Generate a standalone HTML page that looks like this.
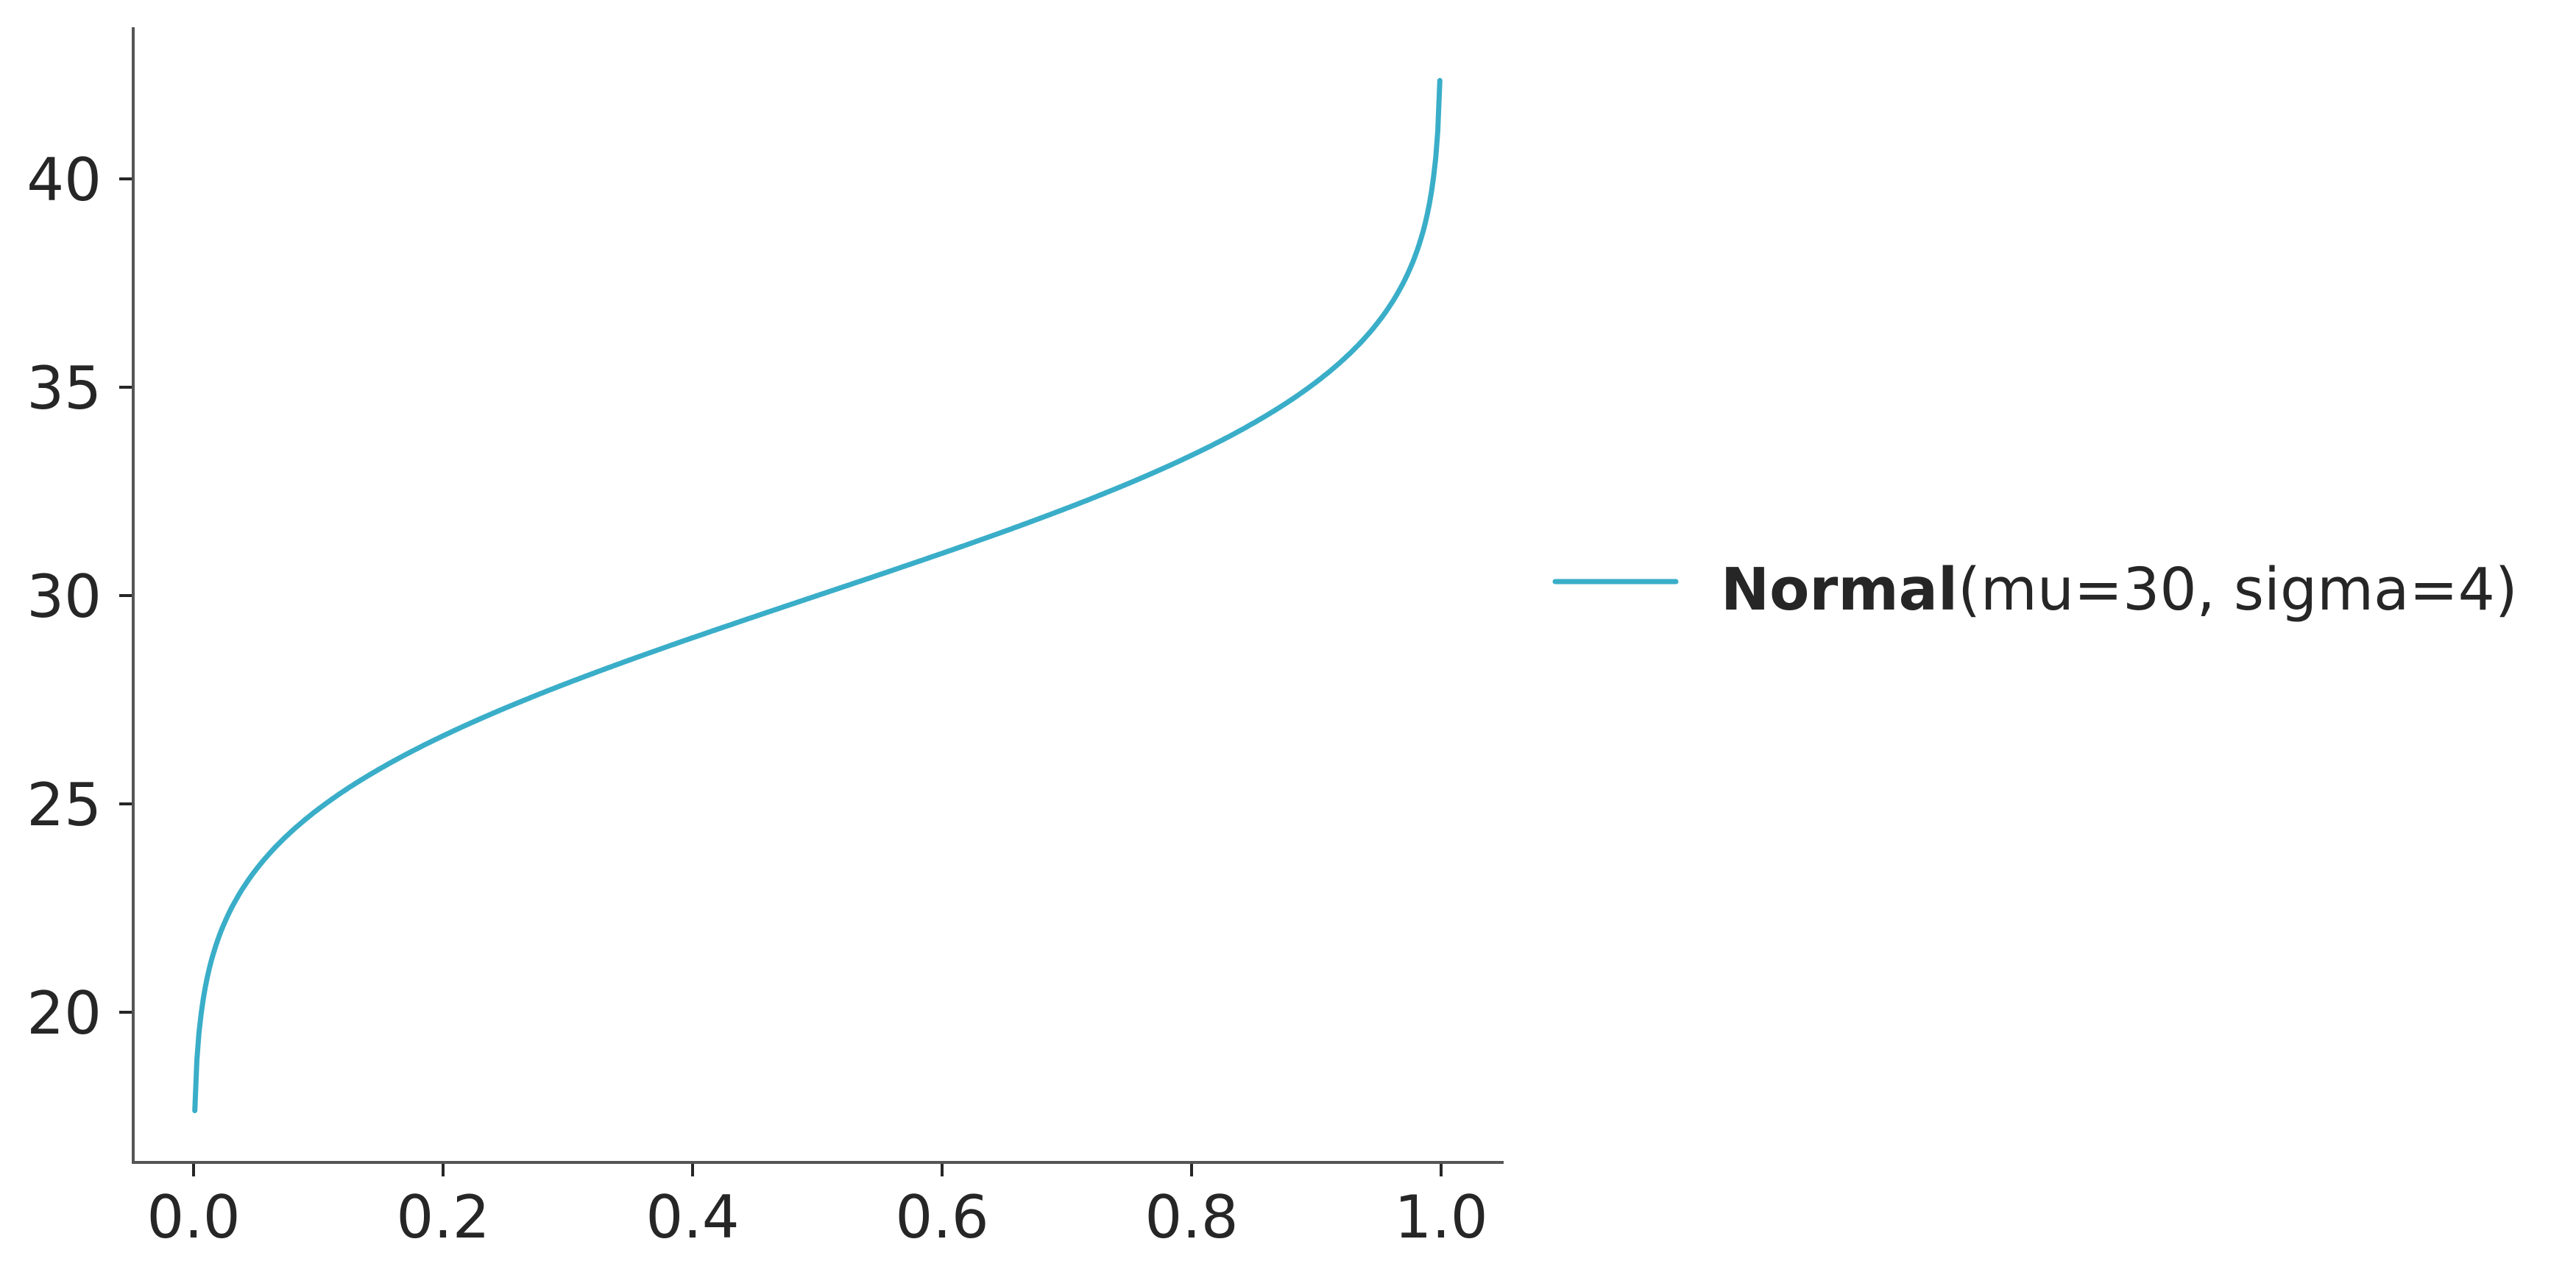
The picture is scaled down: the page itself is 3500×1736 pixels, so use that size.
<!DOCTYPE html>
<html><head><meta charset="utf-8"><style>
html,body{margin:0;padding:0;background:#fff;width:3500px;height:1736px;overflow:hidden}
text{font-family:"DejaVu Sans","Liberation Sans",sans-serif;fill:#262626}
</style></head><body>
<svg id="chart" width="3500" height="1736" xmlns="http://www.w3.org/2000/svg">
<g id="axes"></g>
<g id="plot"></g>
<g id="legend">
<line x1="2113" y1="790" x2="2277" y2="790" stroke="#3aaec8" stroke-width="7" stroke-linecap="round"/>
<text x="2338" y="828" font-size="79"><tspan font-weight="bold">Normal</tspan>(mu=30, sigma=4)</text>
</g>
</svg>
<script>
const xTicks=[0,0.2,0.4,0.6,0.8,1.0];
const xTickLabels=["0.0","0.2","0.4","0.6","0.8","1.0"];
const yTicks=[20,25,30,35,40];
const yTickLabels=["20","25","30","35","40"];
const muParam=[30];
const sigmaParam=[4];
const pStart=[0.001];
const pEnd=[0.999];
const NS="http://www.w3.org/2000/svg";
function sx(v){return 263+(1958-263)*v;}
function sy(v){return 1375-(v-20)*(1375-243)/20;}
function el(t,a,p){const e=document.createElementNS(NS,t);for(const k in a)e.setAttribute(k,a[k]);p.appendChild(e);return e;}
function ppf(p){
 const a=[-39.69683028665376,220.9460984245205,-275.9285104469687,138.3577518672690,-30.66479806614716,2.506628277459239];
 const b=[-54.47609879822406,161.5858368580409,-155.6989798598866,66.80131188771972,-13.28068155288572];
 const c=[-0.007784894002430293,-0.3223964580411365,-2.400758277161838,-2.549732539343734,4.374664141464968,2.938163982698783];
 const d=[0.007784695709041462,0.3224671290700398,2.445134137142996,3.754408661907416];
 const pl=0.02425;let q,r;
 if(p<pl){q=Math.sqrt(-2*Math.log(p));return (((((c[0]*q+c[1])*q+c[2])*q+c[3])*q+c[4])*q+c[5])/((((d[0]*q+d[1])*q+d[2])*q+d[3])*q+1);}
 if(p>1-pl){q=Math.sqrt(-2*Math.log(1-p));return -(((((c[0]*q+c[1])*q+c[2])*q+c[3])*q+c[4])*q+c[5])/((((d[0]*q+d[1])*q+d[2])*q+d[3])*q+1);}
 q=p-0.5;r=q*q;return (((((a[0]*r+a[1])*r+a[2])*r+a[3])*r+a[4])*r+a[5])*q/(((((b[0]*r+b[1])*r+b[2])*r+b[3])*r+b[4])*r+1);
}
const axes=document.getElementById('axes');
let s=el('line',{x1:181,y1:37,x2:181,y2:1579,stroke:'#555',"stroke-width":4},axes);


s=el('line',{x1:179,y1:1579,x2:2043,y2:1579,stroke:'#555',"stroke-width":4},axes);


xTicks.forEach((v,i)=>{
 const t=el('line',{x1:sx(v),y1:1581,x2:sx(v),y2:1598,stroke:'#262626',"stroke-width":4},axes);
 
 
 const l=el('text',{x:sx(v),y:1681,"font-size":80,"text-anchor":"middle"},axes);
 l.textContent=xTickLabels[i];
 
 
});
yTicks.forEach((v,i)=>{
 const t=el('line',{x1:162,y1:sy(v),x2:179,y2:sy(v),stroke:'#262626',"stroke-width":4},axes);
 
 
 const l=el('text',{x:138,y:sy(v)+29,"font-size":80,"text-anchor":"end"},axes);
 l.textContent=yTickLabels[i];
 
 
});
const pts=[];const N=600;
for(let i=0;i<=N;i++){const p=pStart[0]+(pEnd[0]-pStart[0])*i/N;pts.push(sx(p).toFixed(1)+','+sy(muParam[0]+sigmaParam[0]*ppf(p)).toFixed(1));}
const line=el('polyline',{points:pts.join(' '),fill:'none',stroke:'#3aaec8',"stroke-width":7,"stroke-linecap":"round","stroke-linejoin":"round"},document.getElementById('plot'));


</script>
</body></html>
